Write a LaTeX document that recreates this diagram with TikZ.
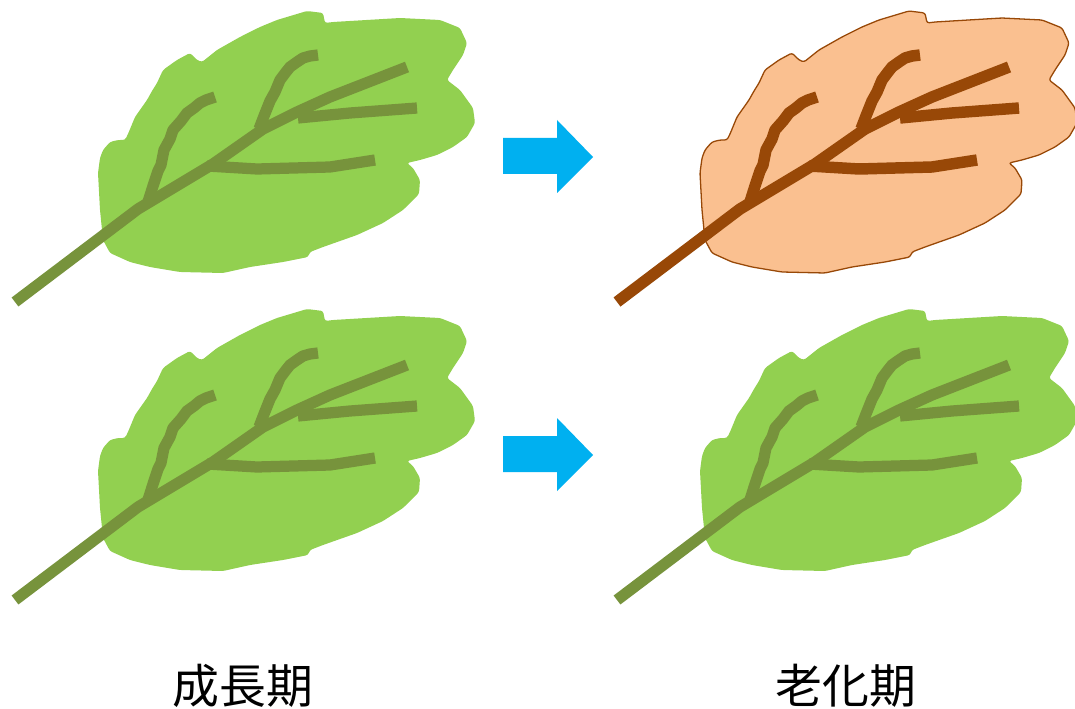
\documentclass[tikz,border=0pt]{standalone}
\usepackage{fontspec}
\newfontfamily\jpfont{Noto Sans CJK JP}
\definecolor{leafgreen}{HTML}{92D050}
\definecolor{veingreen}{HTML}{77933C}
\definecolor{autumnfill}{HTML}{FAC090}
\definecolor{autumnbrown}{HTML}{984807}
\definecolor{arrowblue}{HTML}{00B0F0}
\tikzset{
  leafbody/.style={fill=leafgreen},
  leafvein/.style={draw=veingreen, line width=9.6pt, line cap=butt, line join=round},
  pics/leaf/.style={code={
    % blade outline
    \path[leafbody, rounded corners=2pt]
      (307,11) -- (323,13) -- (325,23) -- (333,22) -- (400,18) -- (440,20)
      -- (460,28) -- (467,43) -- (463,55) -- (453,70) -- (447,80) -- (460,90)
      -- (473,108) -- (475,123) -- (467,137) -- (453,147) -- (437,155)
      -- (420,160) -- (407,163) -- (413,168) -- (420,180) -- (419,194)
      -- (403,210) -- (383,223) -- (357,235) -- (323,247) -- (310,252)
      -- (308,257) -- (283,262) -- (250,267) -- (223,273) -- (180,272)
      -- (150,267) -- (130,262) -- (110,253) -- (103,240) -- (100,210)
      -- (98,173) -- (100,158) -- (103,150) -- (110,142) -- (118,140)
      -- (125,140) -- (128,134) -- (135,117) -- (147,100) -- (152,91)
      -- (157,83) -- (163,70) -- (170,65) -- (177,60) -- (190,53)
      -- (197,60) -- (202,62) -- (217,50) -- (240,37) -- (260,27)
      -- (277,20) -- cycle;
    % midrib
    \draw[leafvein] (15,302) -- (138,209) -- (213,164) -- (263,129)
      -- (297,112) -- (330,97) -- (407,67);
    % side veins
    \draw[leafvein] (147,205) -- (153,186) -- (158,171) -- (161,165)
      -- (164,150) -- (170,139) -- (173,130) -- (181,121) -- (187,113)
      -- (194,108) -- (200,103) -- (206,100) -- (215,97);
    \draw[leafvein] (259,129) -- (264,116) -- (270,101) -- (275,92)
      -- (280,80) -- (286,72) -- (290,67) -- (297,62) -- (303,58)
      -- (310,56) -- (318,55);
    \draw[leafvein] (298,118) -- (350,113) -- (417,108);
    \draw[leafvein] (207,166) -- (257,169) -- (330,167) -- (375,160);
  }}
}
\tikzset{
  autumn/.style={
    leafbody/.style={fill=autumnfill, draw=autumnbrown, line width=1.1pt},
    leafvein/.style={draw=autumnbrown, line width=9.8pt, line cap=butt, line join=round}
  },
  blockarrow/.style={fill=arrowblue},
  period/.style={font=\jpfont\fontsize{40pt}{48pt}\selectfont, inner sep=0pt}
}
\begin{document}
\begin{tikzpicture}[x=0.03cm, y=-0.03cm]
  \useasboundingbox[fill=white] (0,0) rectangle (1075,709);
  % growth stage leaves
  \pic at (0,0) {leaf};
  \pic at (0,298) {leaf};
  % aged leaves: one turned brown, one still green
  \pic[autumn] at (602,0) {leaf};
  \pic at (602,298) {leaf};
  % block arrows
  \foreach \dy in {0,298} {
    \fill[blockarrow, shift={(0,\dy)}]
      (503,138) -- (557,138) -- (557,120) -- (593,157) -- (557,193)
      -- (557,174) -- (503,174) -- cycle;
  }
  % stage labels
  \node[period] (growth) at (243,686) {成長期};
  \node[period] (aging) at (846,686) {老化期};
\end{tikzpicture}
\end{document}
